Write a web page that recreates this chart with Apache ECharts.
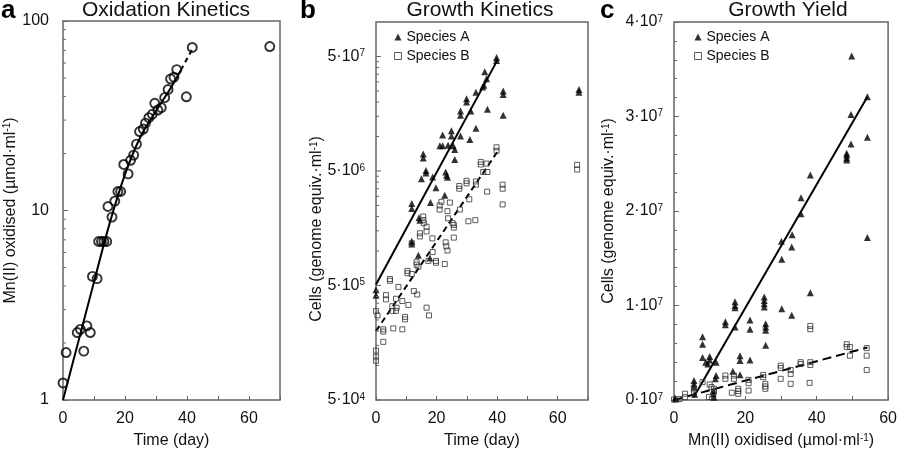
<!DOCTYPE html>
<html><head><meta charset="utf-8">
<script src="https://cdn.jsdelivr.net/npm/echarts@6/dist/echarts.min.js"></script>
<style>html,body{margin:0;padding:0;background:#fff}#chart{width:900px;height:454px}</style>
</head><body><div id="chart"></div>
<script>
// ---------- Panel a: Oxidation kinetics ----------
const aDays = [0,1,4.6,5.6,6.7,7.7,8.8,9.5,11,11.5,12.4,13.2,14.1,14.5,15.8,16.7,17.7,18.6,19.6,21,21.8,22.8,23.7,24.7,25.9,26.6,27.7,28.8,29.6,30.6,31.7,32.8,33.9,34.7,35.8,36.7,39.8,41.7,66.7];
const aMn = [1.23,1.78,2.27,2.36,1.81,2.46,2.27,4.49,4.37,6.86,6.86,6.86,6.86,10.5,9.23,11.2,12.6,12.6,17.5,15.6,18.4,19.6,22.4,26.1,26.9,28.9,30.9,32.2,36.8,33.9,34.9,39.4,43.5,49.5,50.5,55.4,39.8,72.5,73.3];
const aFitDays = [0,5,10,15,20,25,30,35,38];
const aFitMn = [1,2.05,4.2,8.5,15.5,24.5,33.5,45,55];
const aExtDays = [38,42];
const aExtMn = [55,72.5];
const aMinorTicks = [2,3,4,5,6,7,8,9,20,30,40,50,60,70,80,90];

// ---------- Panel b: Growth kinetics ----------
const bDaysA = [0,0,11.8,11.8,11.8,11.8,14,14.2,14.5,15,15.6,15.6,16.5,16.5,17.8,18,18.7,19.8,21.1,22,22,22.7,23,23.3,23.6,23.8,24.9,24.9,25.5,26,26,27.9,27.9,27.9,29.9,29.9,31,31.3,33,33,35.2,35.6,35.9,36.5,36.8,39.8,39.8,42,42,42,67,67];
const bCellsA = [4.6e5,4.1e5,2.6e6,2.35e6,1.22e6,1.15e6,9.2e5,1.95e6,1.86e6,4.28e6,7.05e6,6.5e6,5.05e6,4.8e6,8.7e5,2.65e6,4.42e6,3.56e6,8.3e6,8.3e6,1.03e7,3.07e6,4.9e6,4.6e6,4.4e6,8.4e6,1.12e7,1.01e7,8.3e6,7.7e6,6.3e6,1.67e7,1.53e7,1.01e7,2.14e7,2.0e7,9.4e6,1.67e7,2.44e7,1.18e7,2.7e7,2.8e7,3.67e7,3.19e7,1.73e7,4.9e7,4.6e7,2.5e7,2.33e7,1.53e7,2.58e7,2.44e7];
const bDaysB = [0,0.5,0,0,0,2.4,2.4,2.4,3.3,3.3,4.6,4.6,5.4,6.8,6.6,5.4,5.7,6.6,7.4,8.7,8.7,9.6,9.6,10.4,10.4,11.8,10.7,11.8,12.5,13.6,13.4,13.4,14,14.5,14.5,15.6,15.6,15.8,16.7,16.7,16.7,17.3,17.5,18.6,18.7,19.8,19.8,21,21,21.6,22.7,23,23.2,23.6,23.6,23.8,24.4,25.3,25.7,25.7,25.7,27.5,27.5,27.7,29.9,29.9,30.5,30.8,32.8,33,33,34.6,34.6,35.4,36.5,36.8,36.7,39.8,39.8,41.8,41.8,41.8,66.4,66.4];
const bCellsB = [2.99e5,2.74e5,1.35e5,1.2e5,1.1e5,2.07e5,1.98e5,1.61e5,4.12e5,3.78e5,5.7e5,5.5e5,3.3e5,3.2e5,3.0e5,3.0e5,2.11e5,3.83e5,4.86e5,3.66e5,2.07e5,2.66e5,2.53e5,6.7e5,6.4e5,6.3e5,3.38e5,1.17e6,4.47e5,4.17e5,8.0e5,7.6e5,7.3e5,1.43e6,1.34e6,2.0e6,1.86e6,1.75e6,1.63e6,1.48e6,3.2e5,8.2e5,2.74e5,1.29e6,9.8e5,8.2e5,7.9e5,2.5e6,2.3e6,2.69e6,7.7e5,1.19e6,1.1e6,1.01e6,2.23e6,1.93e6,2.65e6,1.75e6,1.69e6,1.6e6,1.31e6,3.7e6,3.5e6,2.3e6,4.1e6,3.9e6,1.82e6,2.83e6,1.86e6,4.05e6,3.8e6,6.0e6,5.7e6,4.9e6,5.8e6,4.9e6,3.3e6,8.05e6,7.5e6,3.8e6,3.5e6,2.55e6,5.66e6,5.15e6];
const bFitDays = [0,40];
const bFitA = [5.1e5,4.6e7];
const bFitB = [2.0e5,7.3e6];
const bMajorTicks = [5e4,5e5,5e6,5e7];
const bMajorExp = [4,5,6,7];
const bMinorTicks = [1e5,1.5e5,2e5,2.5e5,3e5,3.5e5,4e5,4.5e5,1e6,1.5e6,2e6,2.5e6,3e6,3.5e6,4e6,4.5e6,1e7,1.5e7,2e7,2.5e7,3e7,3.5e7,4e7,4.5e7];

// ---------- Panel c: Growth yield ----------
const cMnA = [0.3,0.5,5.6,5.6,5.6,5.8,8,8,8,8.9,10,10,9.5,11.8,11.8,11.6,11,11,11.2,14.4,14.4,16.5,17.1,17.1,17.1,17.1,18.5,18.5,18.5,21.3,21.3,21.3,25.3,25.3,25.3,25.3,25.7,25.7,25.7,25.7,30.2,30.1,30.2,33,33.1,33,35.6,35.6,38.2,38.2,48.4,48.4,48.4,48.4,49.6,49.6,49.8,54.2,54.2,54.2];
const cCellsA = [0.02e7,0.01e7,0.207e7,0.172e7,0.137e7,0.06e7,0.669e7,0.591e7,0.451e7,0.4e7,0.459e7,0.423e7,0.38e7,0.4e7,0.259e7,0.224e7,0.1e7,0.066e7,0.03e7,0.829e7,0.795e7,0.304e7,1.04e7,1.0e7,0.976e7,0.773e7,0.469e7,0.417e7,0.266e7,0.847e7,0.749e7,0.423e7,1.089e7,1.053e7,1.018e7,0.984e7,0.808e7,0.773e7,0.738e7,0.58e7,1.49e7,1.68e7,0.966e7,1.62e7,1.75e7,0.896e7,2.14e7,1.97e7,2.38e7,1.134e7,2.61e7,2.59e7,2.56e7,2.54e7,2.71e7,3.02e7,3.64e7,3.21e7,2.78e7,1.72e7];
const cMnB = [0,1.5,3.1,3.1,5.6,5.6,8,9.8,10,10.5,11.2,11.2,14.4,14.4,16.2,16.8,16.8,18,18,18,20.9,20.9,20.9,25,25,25.6,25.6,25.6,29.9,29.9,29.9,32.7,32.7,32.7,35.5,35.5,38.2,38.2,38,38.2,38.2,48.4,49.3,48.4,49.3,54,54,54];
const cCellsB = [0.005e7,0.01e7,0.066e7,0.03e7,0.112e7,0.077e7,0.189e7,0.031e7,0.165e7,0.137e7,0.119e7,0.084e7,0.259e7,0.224e7,0.077e7,0.259e7,0.224e7,0.119e7,0.095e7,0.066e7,0.213e7,0.178e7,0.1e7,0.266e7,0.241e7,0.171e7,0.144e7,0.119e7,0.364e7,0.339e7,0.224e7,0.318e7,0.276e7,0.171e7,0.4e7,0.38e7,0.4e7,0.37e7,0.182e7,0.784e7,0.749e7,0.59e7,0.56e7,0.56e7,0.469e7,0.549e7,0.469e7,0.318e7];
const cFitMnA = [5.5,54.2];
const cFitA = [0.03e7,3.21e7];
const cFitMnB = [0,54.2];
const cFitB = [0,0.556e7];

// ---------- Texts ----------
const titles = ['Oxidation Kinetics','Growth Kinetics','Growth Yield'];
const panelLetters = ['a','b','c'];
const xNames = ['Time (day)','Time (day)','Mn(II) oxidised (µmol·ml'];
const yNames = ['Mn(II) oxidised (µmol·ml','Cells (genome equiv.·ml','Cells (genome equiv.·ml'];

const FONT = '"Liberation Sans", Arial, Helvetica, sans-serif';
const TXT = '#111';
const AX = '#666';

const pairs = (xs, ys) => xs.map((x, i) => [x, ys[i]]);
const nameRich = {
  n: {fontSize: 16, color: TXT, fontFamily: FONT},
  s: {fontSize: 10, color: TXT, fontFamily: FONT, verticalAlign: 'top'}
};
const supName = t => '{n|' + t + '}{s|-1}{n|)}';

function xAxisCfg(gi, max, name, rich) {
  return {
    gridIndex: gi, type: 'value', min: 0, max: max, interval: 10,
    axisLine: {show: false},
    axisTick: {inside: true, length: 4, lineStyle: {color: AX, width: 1}},
    axisLabel: {fontSize: 16, color: TXT, fontFamily: FONT, margin: 11,
      formatter: v => (v % 20 === 0 ? String(v) : '')},
    splitLine: {show: false},
    name: rich ? supName(name) : name, nameLocation: 'middle', nameGap: 33,
    nameTextStyle: rich ? {rich: nameRich} : {fontSize: 16, color: TXT, fontFamily: FONT}
  };
}

function minorTickSeries(xi, yi, vals, len) {
  return {
    type: 'custom', xAxisIndex: xi, yAxisIndex: yi, silent: true, clip: false, z: 5,
    data: vals.map(v => [0, v]),
    renderItem: (params, api) => {
      const p = api.coord([api.value(0), api.value(1)]);
      return {type: 'line', shape: {x1: p[0], y1: p[1], x2: p[0] + len, y2: p[1]},
        style: {stroke: AX, lineWidth: 1}};
    }
  };
}

const circleStyle = {color: 'rgba(255,255,255,0)', borderColor: '#000', borderWidth: 1.9};
const triStyle = {color: '#000'};
const sqStyle = {color: 'rgba(255,255,255,0)', borderColor: '#333', borderWidth: 1};

const option = {
  animation: false,
  textStyle: {fontFamily: FONT},
  grid: [
    {left: 63, top: 21, width: 217, height: 382, show: true, borderColor: AX, borderWidth: 1.5, backgroundColor: 'transparent'},
    {left: 376, top: 22, width: 212, height: 381, show: true, borderColor: AX, borderWidth: 1.5, backgroundColor: 'transparent'},
    {left: 674, top: 22, width: 216, height: 381, show: true, borderColor: AX, borderWidth: 1.5, backgroundColor: 'transparent'}
  ],
  xAxis: [
    xAxisCfg(0, 70, xNames[0], false),
    xAxisCfg(1, 70, xNames[1], false),
    xAxisCfg(2, 60, xNames[2], true)
  ],
  yAxis: [
    {gridIndex: 0, type: 'log', logBase: 10, min: 1, max: 100,
      axisLine: {show: false},
      axisTick: {inside: true, length: 5, lineStyle: {color: AX}},
      axisLabel: {fontSize: 16, color: TXT, fontFamily: FONT, margin: 14},
      splitLine: {show: false},
      name: supName(yNames[0]), nameLocation: 'middle', nameGap: 40,
      nameTextStyle: {rich: nameRich}},
    {gridIndex: 1, type: 'log', logBase: 10, min: 5e4, max: 1e8,
      axisLine: {show: false}, axisTick: {show: false}, axisLabel: {show: false},
      splitLine: {show: false},
      name: supName(yNames[1]), nameLocation: 'middle', nameGap: 51,
      nameTextStyle: {rich: nameRich, padding: [0, 36, 0, 0]}},
    {gridIndex: 2, type: 'value', min: 0, max: 4e7, interval: 1e7,
      axisLine: {show: false},
      axisTick: {inside: true, length: 5, lineStyle: {color: AX}},
      minorTick: {show: true, splitNumber: 5, length: 3, lineStyle: {color: AX}},
      axisLabel: {margin: 11, formatter: v => '{m|' + (v / 1e7) + '·10}{e|7}',
        rich: {m: {fontSize: 16, color: TXT, fontFamily: FONT},
               e: {fontSize: 10, color: TXT, fontFamily: FONT, verticalAlign: 'top'}}},
      splitLine: {show: false},
      name: supName(yNames[2]), nameLocation: 'middle', nameGap: 57,
      nameTextStyle: {rich: nameRich}}
  ],
  legend: [1, 2].map(gi => ({
    orient: 'vertical', left: gi === 1 ? 389 : 689, top: 25,
    itemWidth: 7, itemHeight: 7, itemGap: 5, selectedMode: false,
    textStyle: {fontSize: 14, color: TXT, fontFamily: FONT},
    data: [{name: 'Species A', icon: 'triangle'},
           {name: 'Species B', icon: 'rect', itemStyle: {color: '#fff', borderColor: '#333', borderWidth: 1}}]
  })),
  graphic: [
    ...titles.map((t, i) => ({type: 'text', x: [166, 480, 788][i], y: 10,
      style: {text: t, font: '21px ' + FONT, fill: TXT, align: 'center', textAlign: 'center',
        verticalAlign: 'middle', textVerticalAlign: 'middle'}})),
    ...panelLetters.map((t, i) => ({type: 'text', x: [1, 300, 600][i], y: 11,
      style: {text: t, font: 'bold 26px ' + FONT, fill: '#000', align: 'left', textAlign: 'left',
        verticalAlign: 'middle', textVerticalAlign: 'middle'}}))
  ],
  series: [
    // panel a
    {type: 'line', xAxisIndex: 0, yAxisIndex: 0, data: pairs(aFitDays, aFitMn), smooth: 0.3,
      showSymbol: false, lineStyle: {color: '#000', width: 2}, z: 3, silent: true},
    {type: 'line', xAxisIndex: 0, yAxisIndex: 0, data: pairs(aExtDays, aExtMn),
      showSymbol: false, lineStyle: {color: '#000', width: 2, type: [5, 4]}, z: 3, silent: true},
    {type: 'scatter', name: 'Mn', xAxisIndex: 0, yAxisIndex: 0, data: pairs(aDays, aMn),
      symbol: 'circle', symbolSize: 9, itemStyle: circleStyle, z: 4},
    minorTickSeries(0, 0, aMinorTicks, 3),
    // panel b
    {type: 'line', xAxisIndex: 1, yAxisIndex: 1, data: pairs(bFitDays, bFitA),
      showSymbol: false, lineStyle: {color: '#000', width: 2}, z: 3, silent: true},
    {type: 'line', xAxisIndex: 1, yAxisIndex: 1, data: pairs(bFitDays, bFitB),
      showSymbol: false, lineStyle: {color: '#000', width: 2, type: [6, 4]}, z: 3, silent: true},
    {type: 'scatter', name: 'Species A', xAxisIndex: 1, yAxisIndex: 1, data: pairs(bDaysA, bCellsA),
      symbol: 'triangle', symbolSize: 7, itemStyle: triStyle, z: 4},
    {type: 'scatter', name: 'Species B', xAxisIndex: 1, yAxisIndex: 1, data: pairs(bDaysB, bCellsB),
      symbol: 'rect', symbolSize: 5, itemStyle: sqStyle, z: 4},
    minorTickSeries(1, 1, bMinorTicks, 3),
    {type: 'custom', xAxisIndex: 1, yAxisIndex: 1, silent: true, clip: false, z: 5,
      data: bMajorTicks.map((v, i) => [0, v, bMajorExp[i]]),
      renderItem: (params, api) => {
        const p = api.coord([api.value(0), api.value(1)]);
        return {type: 'group', children: [
          {type: 'line', shape: {x1: p[0], y1: p[1], x2: p[0] + 5, y2: p[1]}, style: {stroke: AX, lineWidth: 1}},
          {type: 'text', x: p[0] - 11, y: p[1], style: {
            text: '{m|5·10}{e|' + api.value(2) + '}',
            align: 'right', textAlign: 'right', verticalAlign: 'middle', textVerticalAlign: 'middle',
            rich: {m: {fontSize: 16, fontFamily: FONT, fill: TXT},
                   e: {fontSize: 10, fontFamily: FONT, fill: TXT, verticalAlign: 'top'}}}}
        ]};
      }},
    // panel c
    {type: 'line', xAxisIndex: 2, yAxisIndex: 2, data: pairs(cFitMnA, cFitA),
      showSymbol: false, lineStyle: {color: '#000', width: 2}, z: 3, silent: true},
    {type: 'line', xAxisIndex: 2, yAxisIndex: 2, data: pairs(cFitMnB, cFitB),
      showSymbol: false, lineStyle: {color: '#000', width: 2, type: [9, 5]}, z: 3, silent: true},
    {type: 'scatter', name: 'Species A', xAxisIndex: 2, yAxisIndex: 2, data: pairs(cMnA, cCellsA),
      symbol: 'triangle', symbolSize: 7, itemStyle: triStyle, z: 4},
    {type: 'scatter', name: 'Species B', xAxisIndex: 2, yAxisIndex: 2, data: pairs(cMnB, cCellsB),
      symbol: 'rect', symbolSize: 5, itemStyle: sqStyle, z: 4}
  ]
};

const chart = echarts.init(document.getElementById('chart'), null, {renderer: 'canvas'});
chart.setOption(option);
</script>
</body></html>
